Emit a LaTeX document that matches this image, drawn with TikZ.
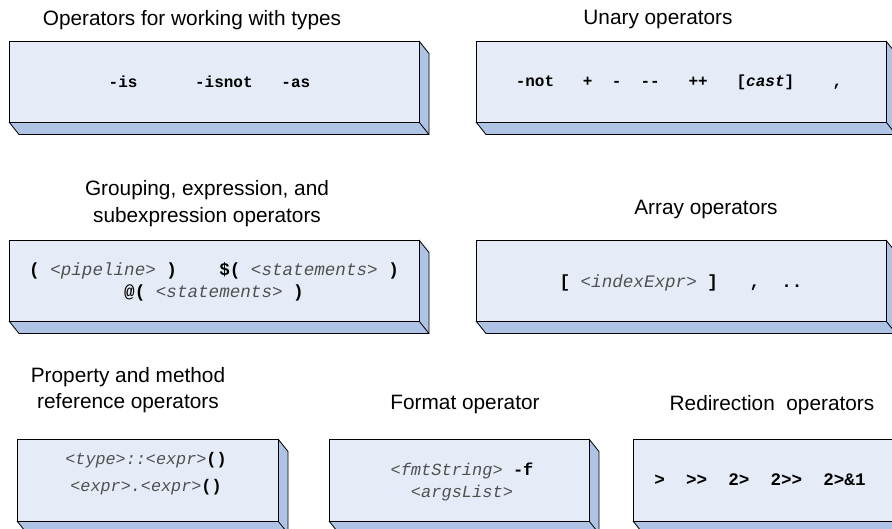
\documentclass[tikz,border=0pt]{standalone}
\usepackage{fontspec}
\setmainfont{Liberation Sans}
\setmonofont{Liberation Mono}
\usepackage{tikz}
\usepackage{color}

\definecolor{frente}{HTML}{E6ECF7}
\definecolor{lado}{HTML}{AFC4E4}
\definecolor{cinza}{HTML}{505050}

\tikzset{
	titulo/.style = {black, align = center, inner sep = 0pt, font = \fontsize{20.8}{26.5}\selectfont},
	codigo/.style = {black, align = center, inner sep = 0pt, font = \ttfamily\bfseries\fontsize{17.6}{22}\selectfont},
	codigop/.style = {codigo, font = \ttfamily\bfseries\fontsize{16}{22}\selectfont},
}
\newcommand{\marca}[1]{{\mdseries\itshape\color{cinza}#1}}

\begin{document}
\begin{tikzpicture}[x = 1pt, y = -1pt]

	\useasboundingbox (0, 0) rectangle (892, 529);

	% Caixas
	\foreach \xa/\ya/\xb/\yb in {9/41/419/122, 476/41/886/122, 9/240/419/321, 476/240/886/321, 17/439/278/521, 329/439/589/521, 633/439/893/521} {
		\fill[lado] (\xb, \ya) -- (\xb + 10, \ya + 12.5) -- (\xb + 10, \yb + 12.5) -- (\xa + 10, \yb + 12.5) -- (\xa, \yb) -- cycle;
		\draw[solid, black, line width = 0.8pt, line join = round] (\xb, \ya) -- (\xb + 10, \ya + 12.5) -- (\xb + 10, \yb + 12.5) -- (\xa + 10, \yb + 12.5) -- (\xa, \yb);
		\draw[solid, black, line width = 0.8pt] (\xb, \yb) -- (\xb + 10, \yb + 12.5);
		\draw[solid, black, line width = 0.8pt, fill = frente] (\xa, \ya) rectangle (\xb, \yb);
	}

	% Titulos
	\node[titulo] (tTipos) at (192, 20) {Operators for working with types};
	\node[titulo] (tUnarios) at (658, 20) {Unary operators};
	\node[titulo] (tGrupo) at (207, 203.5) {Grouping, expression, and\\subexpression operators};
	\node[titulo] (tArray) at (706, 210) {Array operators};
	\node[titulo] (tProp) at (128, 390) {Property and method\\reference operators};
	\node[titulo] (tFormato) at (465, 405) {Format operator};
	\node[titulo] (tRedir) at (772, 405) {Redirection~~operators};

	% Operadores
	\node[codigop] (tipos) at (209.5, 82) {-is~~~~~~-isnot~~~-as};
	\node[codigop] (unarios) at (679, 82) {-not~~~+~~-~~--~~~++~~~[\textit{cast}]~~~~,};
	\node[codigo] (grupo) at (214, 281.5) {(~\marca{<pipeline>}~)~~~~\$(~\marca{<statements>}~)\\@(~\marca{<statements>}~)};
	\node[codigo] (array) at (681, 283) {[~\marca{<indexExpr>}~]~~~,~~..};
	\node[codigo, font = \ttfamily\bfseries\fontsize{16.8}{27}\selectfont] (prop) at (146, 473.5) {\marca{<type>::<expr>}()\\\marca{<expr>.<expr>}()};
	\node[codigo, font = \ttfamily\bfseries\fontsize{17}{21.5}\selectfont] (formato) at (462, 482) {\marca{<fmtString>}~-f\\\marca{<argsList>}};
	\node[codigo] (redir) at (760, 480) {>~~>>~~2>~~2>>~~2>\&1};

\end{tikzpicture}
\end{document}
